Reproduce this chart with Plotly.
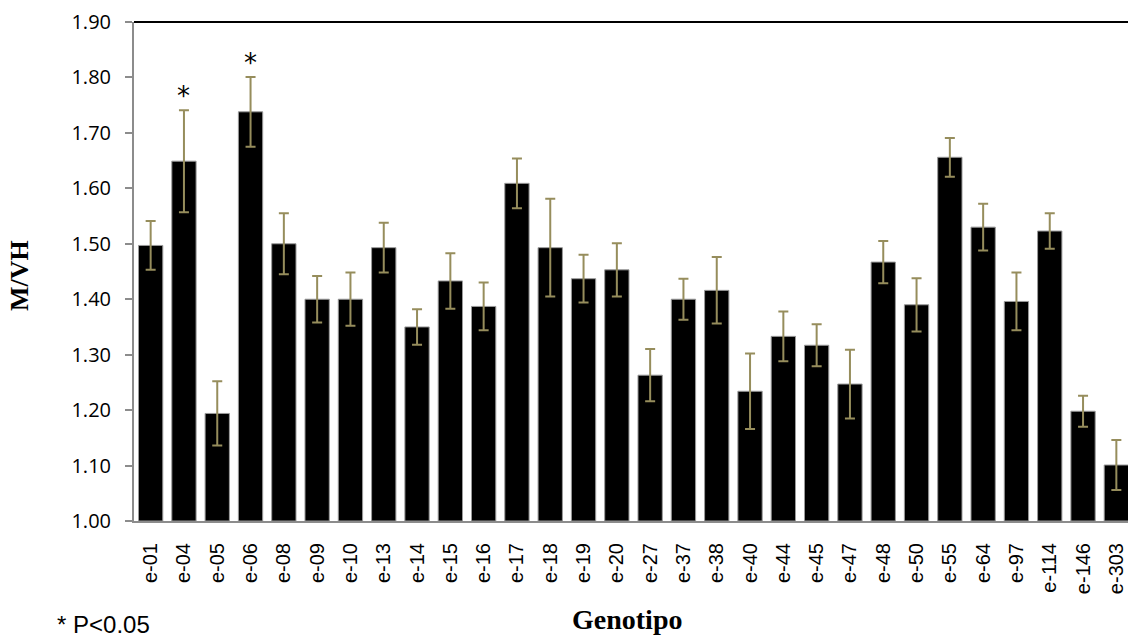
import plotly.graph_objects as go

genotipos = ["e-01", "e-04", "e-05", "e-06", "e-08", "e-09", "e-10", "e-13", "e-14", "e-15",
             "e-16", "e-17", "e-18", "e-19", "e-20", "e-27", "e-37", "e-38", "e-40", "e-44",
             "e-45", "e-47", "e-48", "e-50", "e-55", "e-64", "e-97", "e-114", "e-146", "e-303"]
mvh = [1.497, 1.649, 1.194, 1.738, 1.500, 1.400, 1.400, 1.493, 1.350, 1.433,
       1.387, 1.609, 1.493, 1.437, 1.453, 1.263, 1.400, 1.416, 1.234, 1.333,
       1.317, 1.247, 1.467, 1.390, 1.656, 1.530, 1.396, 1.523, 1.198, 1.101]
err = [0.044, 0.092, 0.058, 0.063, 0.055, 0.042, 0.048, 0.045, 0.032, 0.050,
       0.043, 0.045, 0.088, 0.043, 0.048, 0.047, 0.037, 0.060, 0.068, 0.045,
       0.038, 0.062, 0.038, 0.048, 0.035, 0.042, 0.052, 0.032, 0.028, 0.045]
significativos = ["e-04", "e-06"]
y_ticks = [1.00, 1.10, 1.20, 1.30, 1.40, 1.50, 1.60, 1.70, 1.80, 1.90]

fig = go.Figure()
fig.add_trace(go.Bar(
    x=genotipos, y=[v - 1.0 for v in mvh], base=1.0,
    marker=dict(color="black", line=dict(color="#9a9a9a", width=1)),
    error_y=dict(type="data", array=err, visible=True, color="#968d5c",
                 thickness=2, width=5),
    showlegend=False,
))

annotations = []
for g in significativos:
    i = genotipos.index(g)
    annotations.append(dict(x=g, y=mvh[i] + err[i], xref="x", yref="y", text="*",
                            showarrow=False, yanchor="middle", yshift=14,
                            font=dict(family="DejaVu Sans", size=26, color="black")))
annotations.append(dict(x=0.496, y=-0.198, xref="paper", yref="paper", text="<b>Genotipo</b>",
                        showarrow=False, xanchor="center", yanchor="middle",
                        font=dict(family="Liberation Serif", size=28, color="black")))
annotations.append(dict(x=-0.1147, y=0.493, xref="paper", yref="paper", text="<b>M/VH</b>",
                        showarrow=False, textangle=-90, xanchor="center", yanchor="middle",
                        font=dict(family="Liberation Serif", size=26, color="black")))
annotations.append(dict(x=-0.079, y=-0.2385, xref="paper", yref="paper", text="* P<0.05",
                        showarrow=False, xanchor="left", yanchor="bottom",
                        font=dict(family="Liberation Sans", size=24, color="black")))

fig.update_layout(
    width=1128, height=640,
    margin=dict(l=134, r=0, t=22, b=119),
    paper_bgcolor="white", plot_bgcolor="white",
    bargap=0.27,
    annotations=annotations,
    shapes=[dict(type="line", xref="paper", yref="paper", x0=0, x1=1, y0=1, y1=1,
                 line=dict(color="black", width=2))],
    xaxis=dict(
        type="category", range=[-0.5, 29.35],
        showline=True, linecolor="#8c8c8c", linewidth=2,
        ticks="", tickangle=-90,
        ticklabelstandoff=12,
        tickfont=dict(family="Liberation Sans", size=20, color="black"),
        showgrid=False, zeroline=False,
    ),
    yaxis=dict(
        range=[1.0, 1.9], tickvals=y_ticks, tickformat=".2f",
        showline=True, linecolor="#8c8c8c", linewidth=2,
        ticks="outside", ticklen=7, tickcolor="#8c8c8c", tickwidth=2,
        ticklabelstandoff=10,
        tickfont=dict(family="Open Sans", size=20, color="black"),
        showgrid=False, zeroline=False,
    ),
)

fig.write_html("out.html")
